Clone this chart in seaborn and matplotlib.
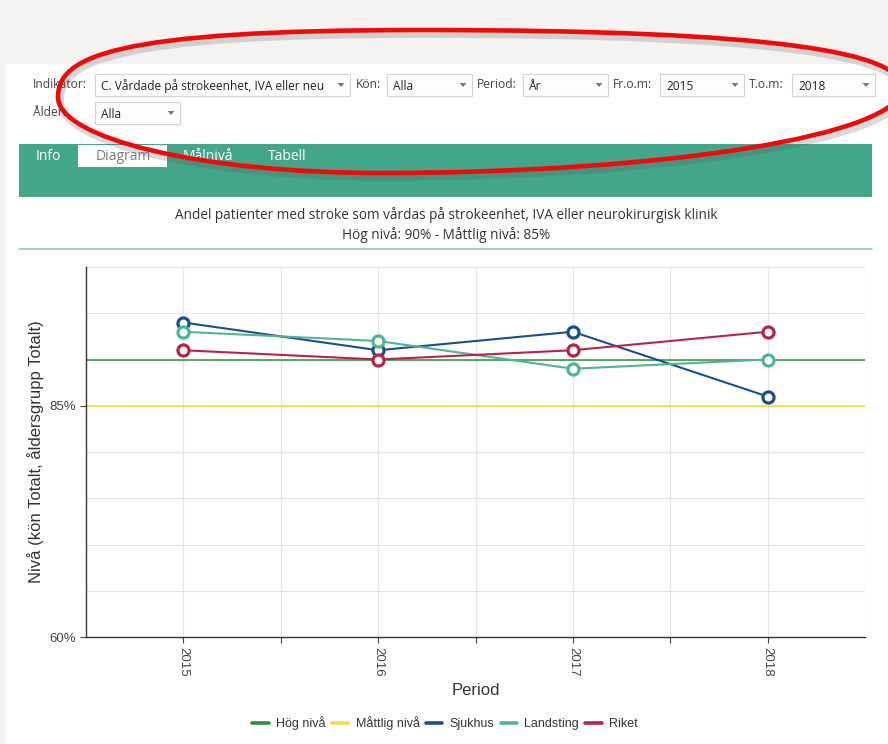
import matplotlib
matplotlib.use("Agg")
import matplotlib.pyplot as plt
from matplotlib.patches import Rectangle, Polygon, PathPatch
from matplotlib.path import Path
from matplotlib.lines import Line2D
import numpy as np
import pandas as pd
import seaborn as sns

# ---- data -------------------------------------------------------------
years = [2015, 2016, 2017, 2018]
sjukhus = [94, 91, 93, 86]
landsting = [93, 92, 89, 90]
riket = [91, 90, 91, 93]
hog_niva = 90
mattlig_niva = 85
y_tick_values = [60, 85]
y_grid_values = [60, 65, 70, 75, 80, 85, 90, 95, 100]

series_names = ["Sjukhus", "Landsting", "Riket"]
legend_names = ["Hög nivå", "Måttlig nivå", "Sjukhus", "Landsting", "Riket"]
colors = {
    "Hög nivå": "#2f8f3a",
    "Måttlig nivå": "#f0df45",
    "Sjukhus": "#1b4e8d",
    "Landsting": "#4fb595",
    "Riket": "#b3264a",
}

chart_title = ("Andel patienter med stroke som vårdas på strokeenhet, IVA eller neurokirurgisk klinik\n"
               "Hög nivå: 90% - Måttlig nivå: 85%")
x_label = "Period"
y_label = "Nivå (kön Totalt, åldersgrupp Totalt)"

# filter bar: (label, label_x, box_x0, box_x1, row, value)
filters = [
    ("Indikator:", 33, 95, 350, 0, "C. Vårdade på strokeenhet, IVA eller neu"),
    ("Kön:", 356, 387, 472, 0, "Alla"),
    ("Period:", 477, 523, 608, 0, "År"),
    ("Fr.o.m:", 613, 660, 744, 0, "2015"),
    ("T.o.m:", 749, 792, 875, 0, "2018"),
    ("Ålder:", 33, 95, 180, 1, "Alla"),
]
tabs = ["Info", "Diagram", "Målnivå", "Tabell"]

# ---- theme ------------------------------------------------------------
sns.set_theme(style="white")
plt.rcParams["font.family"] = ["Liberation Sans", "DejaVu Sans"]
UI_FONT = ["Open Sans", "DejaVu Sans"]

W, H = 888, 744
fig = plt.figure(figsize=(W / 100, H / 100), dpi=100)
fig.patch.set_facecolor("#f4f3f1")

# page layer in pixel coordinates
bg = fig.add_axes([0, 0, 1, 1], zorder=0)
bg.set_xlim(0, W)
bg.set_ylim(H, 0)
bg.axis("off")

bg.add_patch(Rectangle((5, 64), W - 5, H - 64, facecolor="white", edgecolor="none"))

row_y = [(74, 96), (102, 124)]
for label, lx, x0, x1, row, value in filters:
    y0, y1 = row_y[row]
    ym = (y0 + y1) / 2
    bg.text(lx, ym, label, family=UI_FONT, fontsize=8.7, color="#444444",
            ha="left", va="center")
    bg.add_patch(Rectangle((x0, y0), x1 - x0, y1 - y0, facecolor="#fdfdfd",
                           edgecolor="#d4d4d4", lw=0.8))
    bg.text(x0 + 6, ym + 1, value, family=UI_FONT, fontsize=8.6, color="#222222",
            ha="left", va="center")
    ax_ = x1 - 9
    bg.add_patch(Polygon([[ax_ - 3.5, ym - 2], [ax_ + 3.5, ym - 2], [ax_, ym + 2]],
                         closed=True, facecolor="#7a7a7a", edgecolor="none"))

# tab bar
bg.add_patch(Rectangle((19, 144), 872 - 19, 53, facecolor="#43a68b", edgecolor="none"))
bg.add_patch(Rectangle((78, 145), 167 - 78, 22, facecolor="white", edgecolor="none"))
tab_x = [36, 96, 183, 268]
for name, tx in zip(tabs, tab_x):
    col = "#7a7a7a" if name == "Diagram" else "white"
    bg.text(tx, 156, name, family=UI_FONT, fontsize=10, color=col,
            ha="left", va="center")

# chart heading and divider
bg.text(446, 225, chart_title, family=UI_FONT, fontsize=9.8, color="#333333",
        ha="center", va="center", linespacing=1.3)
bg.plot([19, 872], [249, 249], color="#8cc5b9", lw=1.1)

# ---- line chart -------------------------------------------------------
left, right, top, bottom = 86, 865, 267, 637
ax = fig.add_axes([left / W, 1 - bottom / H, (right - left) / W, (bottom - top) / H], zorder=2)
ax.set_facecolor("white")

df = pd.DataFrame({
    "Period": years * len(series_names),
    "Nivå": sjukhus + landsting + riket,
    "Serie": [n for n in series_names for _ in years],
})

ax.axhline(hog_niva, color=colors["Hög nivå"], lw=1.1, zorder=2)
ax.axhline(mattlig_niva, color=colors["Måttlig nivå"], lw=1.3, zorder=2)

for i, name in enumerate(series_names):
    c = colors[name]
    sns.lineplot(data=df[df["Serie"] == name], x="Period", y="Nivå", ax=ax,
                 color=c, linewidth=1.5, marker="o", markersize=8,
                 markerfacecolor="white", markeredgecolor=c, markeredgewidth=2.3,
                 zorder=3 + i)

ax.set_xlim(years[0] - 0.5, years[-1] + 0.5)
ax.set_ylim(y_grid_values[0], y_grid_values[-1])

ax.set_xticks(years)
ax.set_xticklabels([str(y) for y in years], rotation=270, ha="center", va="top",
                   fontsize=9.5, color="#444444")
ax.set_xticks(np.array(years[:-1]) + 0.5, minor=True)
ax.tick_params(axis="x", which="both", length=4, width=0.8, color="#444444",
               bottom=True, pad=3)

ax.set_yticks(y_tick_values)
ax.set_yticklabels([f"{v}%" for v in y_tick_values], fontsize=9.5, color="#444444")
ax.set_yticks(y_grid_values, minor=True)
ax.tick_params(axis="y", which="major", length=4, width=0.8, color="#444444",
               left=True, pad=3)
ax.tick_params(axis="y", which="minor", length=0)

ax.grid(False)
ax.grid(axis="y", which="minor", color="#e4e4e4", lw=0.8)
ax.grid(axis="x", which="both", color="#e4e4e4", lw=0.8)
ax.set_axisbelow(True)

for s in ("top", "right"):
    ax.spines[s].set_visible(False)
for s in ("left", "bottom"):
    ax.spines[s].set_color("#333333")
    ax.spines[s].set_linewidth(1.0)

# right border drawn as a grid-coloured rule
ax.axvline(years[-1] + 0.5, color="#e4e4e4", lw=0.8, zorder=0)

ax.set_xlabel(x_label, fontsize=12, color="#333333", labelpad=5)
ax.set_ylabel(y_label, fontsize=12, color="#333333", labelpad=4)

handles = [Line2D([0], [0], color=colors[n], lw=2.6) for n in legend_names]
leg = fig.legend(handles, legend_names, loc="center",
                 bbox_to_anchor=(445 / W, 1 - 723 / H), ncol=5, frameon=False,
                 fontsize=9, handlelength=1.3, handletextpad=0.6, columnspacing=0.5)
for t in leg.get_texts():
    t.set_color("#333333")

# ---- hand-drawn highlight ring over the filter bar ----------------------
ov = fig.add_axes([0, 0, 1, 1], zorder=10)
ov.set_xlim(0, W)
ov.set_ylim(H, 0)
ov.axis("off")


def ring_path(L, T, R, B, k):
    """Closed four-arc Bezier loop through left, top, right and bottom points."""
    verts = [
        L,
        (L[0], L[1] - (L[1] - T[1]) * k[0]), (T[0] - (T[0] - L[0]) * k[1], T[1]), T,
        (T[0] + (R[0] - T[0]) * k[2], T[1]), (R[0], R[1] - (R[1] - T[1]) * k[3]), R,
        (R[0], R[1] + (B[1] - R[1]) * k[4]), (B[0] + (R[0] - B[0]) * k[5], B[1]), B,
        (B[0] - (B[0] - L[0]) * k[6], B[1]), (L[0], L[1] + (B[1] - L[1]) * k[7]), L,
    ]
    codes = [Path.MOVETO] + [Path.CURVE4] * 12
    return Path(verts, codes)


ring_pts = [(58, 97), (420, 30), (902, 88), (380, 173)]
ring_k = (0.6, 0.85, 0.75, 0.6, 0.55, 0.55, 0.55, 0.55)
shadow_pts = [(x + 2, y + 4) for x, y in ring_pts]
ov.add_patch(PathPatch(ring_path(*shadow_pts, ring_k), fill=False,
                       edgecolor="#555555", alpha=0.22, lw=5.5))
ov.add_patch(PathPatch(ring_path(*ring_pts, ring_k), fill=False,
                       edgecolor="#ee0a0a", lw=3.3))

fig.savefig("out.png", dpi=100)
